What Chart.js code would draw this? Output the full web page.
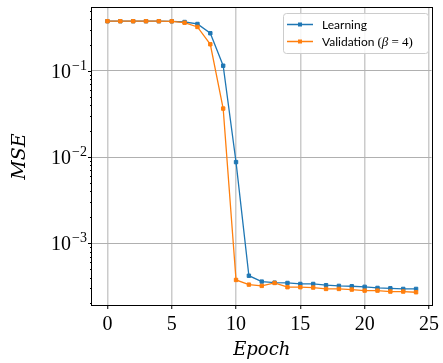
<!DOCTYPE html>
<html>
<head>
<meta charset="utf-8">
<script src="https://cdn.jsdelivr.net/npm/chart.js@4/dist/chart.umd.min.js"></script>
<style>html,body{margin:0;background:#fff}canvas{display:block}</style>
</head>
<body>
<canvas id="chart" width="443" height="363"></canvas>
<script>
const epochs = [0,1,2,3,4,5,6,7,8,9,10,11,12,13,14,15,16,17,18,19,20,21,22,23,24];
const learning = [0.378,0.378,0.378,0.378,0.378,0.377,0.370,0.351,0.274,0.115,0.00875,4.2e-4,3.59e-4,3.49e-4,3.46e-4,3.37e-4,3.37e-4,3.26e-4,3.2e-4,3.17e-4,3.12e-4,3.03e-4,3.0e-4,2.95e-4,2.95e-4];
const validation = [0.378,0.378,0.378,0.378,0.378,0.377,0.363,0.324,0.204,0.0366,3.75e-4,3.31e-4,3.2e-4,3.46e-4,3.09e-4,3.09e-4,3.06e-4,2.95e-4,2.95e-4,2.9e-4,2.82e-4,2.82e-4,2.75e-4,2.75e-4,2.7e-4];
const xTicks = [0,5,10,15,20,25];
const yMajorTicks = [1e-3,1e-2,1e-1];
const seriesNames = ['Learning','Validation'];

const BLUE = '#1f77b4', ORANGE = '#ff7f0e';
const SERIF = '"Liberation Serif", "DejaVu Serif", serif';

function pts(ys){ return epochs.map((e,i)=>({x:e,y:ys[i]})); }

// frame, minor ticks, 10^n labels and legend
const extras = {
  id:'extras',
  afterDraw(chart){
    const {ctx, chartArea:a, scales:{y}} = chart;
    ctx.save();
    ctx.strokeStyle='#000'; ctx.lineWidth=1;
    for(let d=-4; d<=0; d++){
      for(let m=1; m<=9; m++){
        const v = m*Math.pow(10,d);
        if(v<y.min || v>y.max) continue;
        const py = Math.round(y.getPixelForValue(v))+0.5;
        const len = m===1 ? 4 : 2;
        ctx.beginPath(); ctx.moveTo(a.left-len, py); ctx.lineTo(a.left, py); ctx.stroke();
      }
    }
    // y labels
    ctx.fillStyle='#000'; ctx.textBaseline='alphabetic';
    yMajorTicks.forEach(v=>{
      const py = y.getPixelForValue(v);
      const sup = '\u2212'+Math.abs(Math.round(Math.log10(v)));
      ctx.font = '14px '+SERIF; const sw = ctx.measureText(sup).width;
      ctx.font = '20px '+SERIF; const bw = ctx.measureText('10').width;
      const right = a.left-5;
      ctx.textAlign='left';
      ctx.fillText('10', right-sw-bw-1, py+7);
      ctx.font = '14px '+SERIF;
      ctx.fillText(sup, right-sw, py-1);
    });
    // frame
    ctx.strokeStyle='#000'; ctx.lineWidth=1;
    ctx.strokeRect(Math.round(a.left)-0.5, Math.round(a.top)-0.5, Math.round(a.right-a.left)+1, Math.round(a.bottom-a.top)+1);
    // legend
    const lx=283.5, ly=13.5, lw=145, lh=40, r=3;
    ctx.beginPath();
    ctx.moveTo(lx+r,ly); ctx.lineTo(lx+lw-r,ly); ctx.arcTo(lx+lw,ly,lx+lw,ly+r,r);
    ctx.lineTo(lx+lw,ly+lh-r); ctx.arcTo(lx+lw,ly+lh,lx+lw-r,ly+lh,r);
    ctx.lineTo(lx+r,ly+lh); ctx.arcTo(lx,ly+lh,lx,ly+lh-r,r);
    ctx.lineTo(lx,ly+r); ctx.arcTo(lx,ly,lx+r,ly,r); ctx.closePath();
    ctx.fillStyle='rgba(255,255,255,0.85)'; ctx.fill();
    ctx.strokeStyle='#cccccc'; ctx.stroke();
    const rows=[{c:BLUE,y:24.5},{c:ORANGE,y:41.5}];
    rows.forEach(rw=>{
      ctx.strokeStyle=rw.c; ctx.lineWidth=1.5;
      ctx.beginPath(); ctx.moveTo(287,rw.y); ctx.lineTo(313,rw.y); ctx.stroke();
      ctx.fillStyle=rw.c; ctx.fillRect(298,rw.y-2,4,4);
    });
    ctx.fillStyle='#000'; ctx.textAlign='left'; ctx.textBaseline='alphabetic';
    ctx.font='12px Lato, "DejaVu Sans", sans-serif';
    ctx.fillText(seriesNames[0], 322, 29);
    let tx=322;
    ctx.fillText(seriesNames[1]+' ', tx, 46); tx += ctx.measureText(seriesNames[1]+' ').width;
    ctx.font='13px '+SERIF; ctx.fillText('(', tx, 46); tx += ctx.measureText('(').width;
    ctx.font='italic 13px '+SERIF; ctx.fillText('\u03b2', tx, 46); tx += ctx.measureText('\u03b2').width;
    ctx.font='13px '+SERIF; ctx.fillText(' = 4)', tx, 46);
    ctx.restore();
  }
};

new Chart(document.getElementById('chart'), {
  type:'line',
  data:{datasets:[
    {label:seriesNames[0], data:pts(learning), borderColor:BLUE, backgroundColor:BLUE, borderWidth:1.3,
     pointStyle:'rect', pointRadius:2.4, pointBorderWidth:1, tension:0, order:2},
    {label:seriesNames[1], data:pts(validation), borderColor:ORANGE, backgroundColor:ORANGE, borderWidth:1.3,
     pointStyle:'rect', pointRadius:2.4, pointBorderWidth:1, tension:0, order:1}
  ]},
  options:{
    responsive:false, animation:false, devicePixelRatio:1,
    layout:{padding:{top:8,right:9,left:0,bottom:0}},
    plugins:{legend:{display:false}, tooltip:{enabled:false}},
    scales:{
      x:{type:'linear', min:-1.2, max:25.2,
        afterBuildTicks:s=>{ s.ticks = xTicks.map(v=>({value:v})); },
        afterFit:s=>{ s.height = 58; },
        grid:{color:'#cbcbcb', lineWidth:1.5, tickColor:'#000', tickWidth:1, tickLength:4, drawTicks:true},
        border:{display:false},
        ticks:{color:'#000', font:{family:SERIF, size:20}, padding:4, maxRotation:0},
        title:{display:true, text:'Epoch', color:'#000', font:{family:'"DejaVu Serif", serif', style:'italic', size:18}, padding:{top:0,bottom:2}}
      },
      y:{type:'logarithmic', min:1.92e-4, max:0.538,
        afterBuildTicks:s=>{ s.ticks = yMajorTicks.map(v=>({value:v})); },
        afterFit:s=>{ s.width = 92; },
        grid:{color:'#b0b0b0', lineWidth:1, drawTicks:false},
        border:{display:false},
        ticks:{display:false},
        title:{display:true, text:'MSE', color:'#000', font:{family:'"DejaVu Serif", serif', style:'italic', size:19}, padding:{top:9,bottom:0}}
      }
    }
  },
  plugins:[extras]
});
</script>
</body>
</html>
